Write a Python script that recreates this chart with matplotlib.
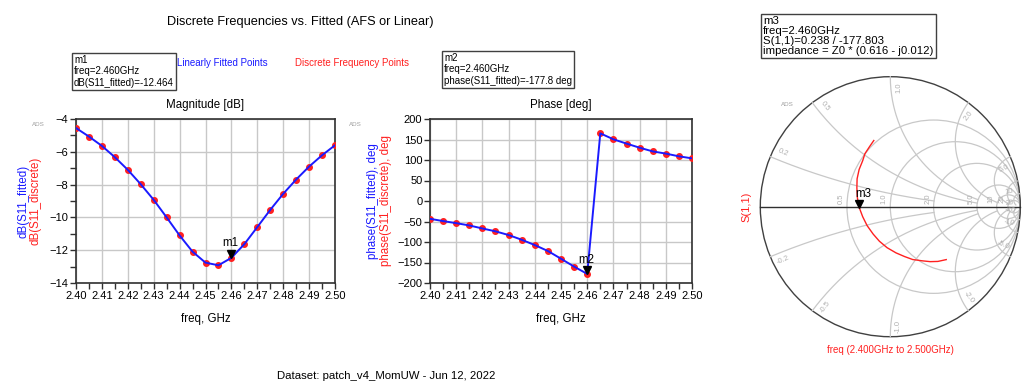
import numpy as np
import matplotlib
matplotlib.use("Agg")
import matplotlib.pyplot as plt
import matplotlib.transforms as mtrans
from matplotlib.patches import Circle
from matplotlib.ticker import MultipleLocator

plt.rcParams["font.family"] = ["Liberation Sans", "DejaVu Sans"]

# ---- data ------------------------------------------------------------------
freq = [2.400, 2.405, 2.410, 2.415, 2.420, 2.425, 2.430, 2.435, 2.440, 2.445,
        2.450, 2.455, 2.460, 2.465, 2.470, 2.475, 2.480, 2.485, 2.490, 2.495,
        2.500]
mag_db = [-4.55, -5.07, -5.64, -6.33, -7.10, -7.98, -8.93, -10.00, -11.10,
          -12.09, -12.76, -12.92, -12.464, -11.63, -10.59, -9.54, -8.56,
          -7.69, -6.90, -6.21, -5.60]
phase_deg = [-43.4, -49.0, -54.0, -59.6, -67.0, -74.0, -83.0, -94.5, -107.5,
             -122.0, -140.8, -160.0, -177.8, 165.0, 150.5, 140.0, 130.0,
             121.0, 115.6, 109.0, 104.0]
xticks = [2.40, 2.41, 2.42, 2.43, 2.44, 2.45, 2.46, 2.47, 2.48, 2.49, 2.50]
marker_freq = 2.460

r_circles = [0.5, 1.0, 2.0, 5.0, 10.0, 20.0]
r_labels = ["0.5", "1.0", "2.0", "5.0", "10", "20"]
x_arcs = [0.2, 0.5, 1.0, 2.0, 5.0, 10.0, 20.0]
x_labels = ["0.2", "0.5", "1.0", "2.0", "5.0", "10", "20"]
x_arc_rmax = [2.0, 5.0, 5.0, 10.0, 20.0, 20.0, 50.0]

W, H = 1024, 389
BLUE = "#1a1aff"
RED = "#ff2020"
GRID = "#c8c8c8"
SPINE = "#303030"

fig = plt.figure(figsize=(W / 100, H / 100), dpi=100)
fig.patch.set_facecolor("white")


def rect(l, t, r, b):
    return [l / W, 1 - b / H, (r - l) / W, (b - t) / H]


def fx(x):
    return x / W


def fy(y):
    return 1 - y / H


def style_axes(ax, ymajor, yminor):
    ax.set_xlim(2.40, 2.50)
    ax.set_xticks(xticks)
    ax.set_xticklabels([f"{t:.2f}" for t in xticks])
    ax.xaxis.set_minor_locator(MultipleLocator(0.005))
    ax.yaxis.set_major_locator(MultipleLocator(ymajor))
    if yminor:
        ax.yaxis.set_minor_locator(MultipleLocator(yminor))
    ax.grid(True, which="major", color=GRID, linewidth=1.0)
    ax.set_axisbelow(True)
    for s in ax.spines.values():
        s.set_color(SPINE)
        s.set_linewidth(1.2)
    ax.tick_params(which="both", direction="out", length=4, width=1,
                   color=SPINE, labelsize=8, pad=1.5)


def marker(ax, x, y, name):
    tr = mtrans.offset_copy(ax.transData, fig=fig, x=0, y=4, units="dots")
    ax.plot([x], [y], marker="v", color="black", markersize=6,
            transform=tr, zorder=6, clip_on=False)
    ax.annotate(name, (x, y), xytext=(-1, 6), textcoords="offset points",
                ha="center", va="bottom", fontsize=8.3, zorder=7)


# ---- magnitude ---------------------------------------------------------------
ax1 = fig.add_axes(rect(76, 119, 335, 283))
ax1.plot(freq, mag_db, "o", color=RED, markersize=4.0, zorder=3)
ax1.plot(freq, mag_db, "-", color=BLUE, linewidth=1.4, zorder=4)
ax1.set_ylim(-14, -4)
style_axes(ax1, 2, 1)
marker(ax1, marker_freq, mag_db[freq.index(marker_freq)], "m1")
fig.text(fx(205.5), fy(105), "Magnitude [dB]", ha="center", va="center",
         fontsize=8.3)
fig.text(fx(205.5), fy(319), "freq, GHz", ha="center", va="center",
         fontsize=8.3)
fig.text(fx(24), fy(201), "dB(S11_fitted)", color=BLUE, rotation=90,
         ha="center", va="center", fontsize=8.3)
fig.text(fx(36), fy(201), "dB(S11_discrete)", color=RED, rotation=90,
         ha="center", va="center", fontsize=8.3)
fig.text(fx(38), fy(124), "ADS", color="#a0a0a0", fontsize=4.5,
         ha="center", va="center")

# ---- phase -------------------------------------------------------------------
ax2 = fig.add_axes(rect(430, 119, 692, 283))
ax2.plot(freq, phase_deg, "o", color=RED, markersize=4.0, zorder=3)
ax2.plot(freq, phase_deg, "-", color=BLUE, linewidth=1.4, zorder=4)
ax2.set_ylim(-200, 200)
style_axes(ax2, 50, None)
marker(ax2, marker_freq, phase_deg[freq.index(marker_freq)], "m2")
fig.text(fx(561), fy(105), "Phase [deg]", ha="center", va="center",
         fontsize=8.3)
fig.text(fx(561), fy(319), "freq, GHz", ha="center", va="center",
         fontsize=8.3)
fig.text(fx(373), fy(201), "phase(S11_fitted), deg", color=BLUE,
         rotation=90, ha="center", va="center", fontsize=8.3)
fig.text(fx(386), fy(201), "phase(S11_discrete), deg", color=RED,
         rotation=90, ha="center", va="center", fontsize=8.3)
fig.text(fx(355), fy(124), "ADS", color="#a0a0a0", fontsize=4.5,
         ha="center", va="center")

# ---- smith chart -------------------------------------------------------------
cx, cy, rad = 890.3, 206.7, 130.0
lim = 1.06
ax3 = fig.add_axes(rect(cx - rad * lim, cy - rad * lim,
                        cx + rad * lim, cy + rad * lim))
ax3.set_xlim(-lim, lim)
ax3.set_ylim(-lim, lim)
ax3.set_aspect("equal")
ax3.axis("off")

for r in r_circles:
    ax3.add_patch(Circle((r / (1 + r), 0), 1 / (1 + r), fill=False,
                         edgecolor=GRID, linewidth=0.9))
for x, rmax in zip(x_arcs, x_arc_rmax):
    rr = np.concatenate([np.linspace(0, 1, 60), np.linspace(1, rmax, 200)])
    for s in (1, -1):
        z = rr + 1j * s * x
        g = (z - 1) / (z + 1)
        ax3.plot(g.real, g.imag, color=GRID, linewidth=0.9)
ax3.add_patch(Circle((0, 0), 1, fill=False, edgecolor="#404040",
                     linewidth=1.0))
ax3.plot([-1, 1], [0, 0], color="#303030", linewidth=1.0)

for r, lab in zip(r_circles, r_labels):
    g0 = (r - 1) / (r + 1)
    ax3.text(g0 - 0.045, 0.06, lab, rotation=90, color="#b0b0b0",
             fontsize=5.5, ha="center", va="center")
for x, lab in zip(x_arcs, x_labels):
    for s in (1, -1):
        z = 1j * s * x
        g = (z - 1) / (z + 1)
        ang = np.degrees(np.angle(g))
        rot = ang
        if rot > 90:
            rot -= 180
        if rot <= -90:
            rot += 180
        pos = 0.92 * g * np.exp(1j * np.radians(-4 * s))
        ax3.text(pos.real, pos.imag, lab if s > 0 else "-" + lab,
                 rotation=rot, color="#b0b0b0", fontsize=5.5,
                 ha="center", va="center", rotation_mode="anchor")

gamma = 10 ** (np.array(mag_db) / 20) * np.exp(1j * np.radians(phase_deg))
ax3.plot(gamma.real, gamma.imag, color=RED, linewidth=1.0)
gm = gamma[freq.index(marker_freq)]
tr3 = mtrans.offset_copy(ax3.transData, fig=fig, x=0, y=4, units="dots")
ax3.plot([gm.real], [gm.imag], marker="v", color="black", markersize=6,
         transform=tr3, zorder=6)
ax3.annotate("m3", (gm.real, gm.imag), xytext=(3, 6),
             textcoords="offset points", ha="center", va="bottom",
             fontsize=8.3)
fig.text(fx(787), fy(104), "ADS", color="#a0a0a0", fontsize=4.5,
         ha="center", va="center")
fig.text(fx(746), fy(207), "S(1,1)", color=RED, rotation=90, ha="center",
         va="center", fontsize=8)
fig.text(fx(890), fy(350), "freq (2.400GHz to 2.500GHz)", color=RED,
         ha="center", va="center", fontsize=7)

# ---- titles, legend text, marker boxes ----------------------------------------
fig.text(fx(300), fy(22), "Discrete Frequencies vs. Fitted (AFS or Linear)",
         ha="center", va="center", fontsize=9.2)
fig.text(fx(177), fy(63), "Linearly Fitted Points", color=BLUE,
         ha="left", va="center", fontsize=7)
fig.text(fx(295), fy(63), "Discrete Frequency Points", color=RED,
         ha="left", va="center", fontsize=7)
fig.text(fx(386), fy(376), "Dataset: patch_v4_MomUW - Jun 12, 2022",
         ha="center", va="center", fontsize=8.2)

box = dict(boxstyle="square,pad=0.2", facecolor="white",
           edgecolor="#404040", linewidth=1.0)
fig.text(fx(74), fy(88), "m1\nfreq=2.460GHz\ndB(S11_fitted)=-12.464",
         ha="left", va="bottom", fontsize=7, linespacing=1.2, bbox=box)
fig.text(fx(444), fy(86), "m2\nfreq=2.460GHz\nphase(S11_fitted)=-177.8 deg",
         ha="left", va="bottom", fontsize=7, linespacing=1.2, bbox=box)
fig.text(fx(763), fy(56),
         "m3\nfreq=2.460GHz\nS(1,1)=0.238 / -177.803\n"
         "impedance = Z0 * (0.616 - j0.012)",
         ha="left", va="bottom", fontsize=8.2, linespacing=1.0, bbox=box)

fig.savefig("out.png", dpi=100, facecolor="white")
